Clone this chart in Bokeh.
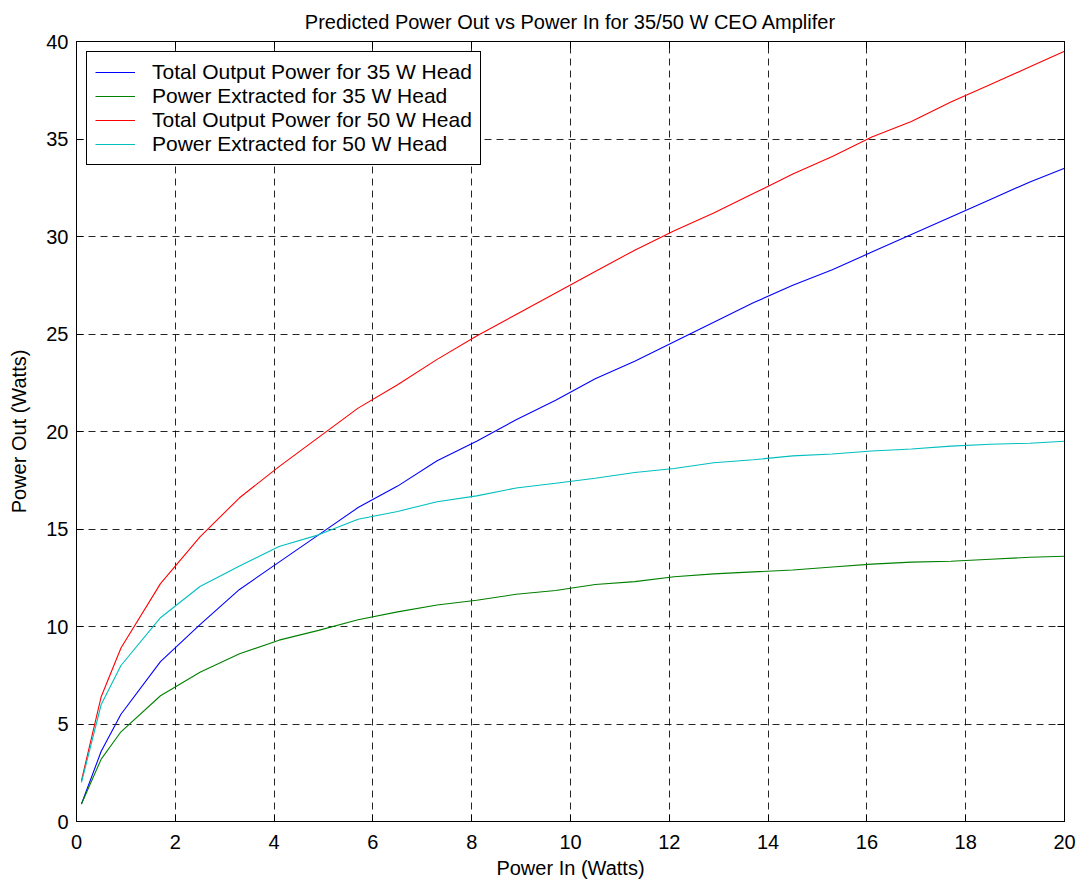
from bokeh.plotting import figure
from bokeh.models import Range1d, LinearAxis, FixedTicker, Legend, LegendItem
from bokeh.embed import file_html
from bokeh.resources import INLINE

# Input power sweep (Watts)
power_in = [0.1, 0.5, 0.9, 1.7, 2.5, 3.3, 4.1, 4.9, 5.7, 6.5, 7.3, 8.1, 8.9, 9.7,
            10.5, 11.3, 12.1, 12.9, 13.7, 14.5, 15.3, 16.1, 16.9, 17.7, 18.5, 19.3, 20.0]

# 35 W head
total_out_35 = [0.9, 3.6, 5.5, 8.2, 10.1, 11.9, 13.3, 14.7, 16.1, 17.2, 18.5, 19.5, 20.6, 21.6,
                22.7, 23.6, 24.6, 25.6, 26.6, 27.5, 28.3, 29.2, 30.1, 31.0, 31.9, 32.8, 33.5]
extracted_35 = [0.9, 3.2, 4.6, 6.45, 7.65, 8.6, 9.3, 9.8, 10.35, 10.75, 11.1, 11.35, 11.65, 11.85,
                12.15, 12.3, 12.55, 12.7, 12.8, 12.9, 13.05, 13.2, 13.3, 13.35, 13.45, 13.55, 13.6]

# 50 W head
total_out_50 = [2.1, 6.4, 8.9, 12.2, 14.6, 16.6, 18.2, 19.7, 21.2, 22.4, 23.7, 24.9, 26.0, 27.1,
                28.2, 29.3, 30.3, 31.2, 32.2, 33.2, 34.1, 35.1, 35.9, 36.9, 37.8, 38.7, 39.5]
extracted_50 = [2.0, 6.0, 8.0, 10.45, 12.05, 13.1, 14.1, 14.7, 15.5, 15.9, 16.4, 16.7, 17.1, 17.35,
                17.6, 17.9, 18.1, 18.4, 18.55, 18.75, 18.85, 19.0, 19.1, 19.25, 19.35, 19.4, 19.5]

series_labels = ["Total Output Power for 35 W Head", "Power Extracted for 35 W Head",
                 "Total Output Power for 50 W Head", "Power Extracted for 50 W Head"]
series_colors = ["#0000FF", "#008000", "#FF0000", "#00BFBF"]

x_ticks = list(range(0, 21, 2))
y_ticks = list(range(0, 41, 5))

FONT = "Liberation Sans"

p = figure(width=1080, height=882, output_backend="svg", toolbar_location=None,
           x_range=Range1d(0, 20), y_range=Range1d(0, 40),
           min_border_left=76, min_border_right=16, min_border_top=40, min_border_bottom=61)

p.title.text = "Predicted Power Out vs Power In for 35/50 W CEO Amplifer"
p.title.align = "center"
p.title.text_font = FONT
p.title.text_font_size = "20px"
p.title.text_font_style = "normal"
p.title.text_color = "black"
p.title.standoff = 17

p.outline_line_color = "black"
p.outline_line_width = 1
p.outline_line_alpha = 1
p.background_fill_color = "white"
p.border_fill_color = "white"

# Dashed grid
for g, ticks in ((p.xgrid, x_ticks), (p.ygrid, y_ticks)):
    g.ticker = FixedTicker(ticks=ticks)
    g.grid_line_color = "black"
    g.grid_line_dash = "7 5"
    g.grid_line_width = 1
    g.grid_line_alpha = 0.85


def style_axis(ax, ticks, show_labels=True):
    ax.ticker = FixedTicker(ticks=ticks)
    ax.axis_line_color = "black"
    ax.major_tick_line_color = "black"
    ax.major_tick_in = 7
    ax.major_tick_out = 0
    ax.minor_tick_line_color = None
    ax.major_label_text_font = FONT
    ax.major_label_text_font_size = "20px"
    ax.major_label_text_color = "black" if show_labels else None
    ax.axis_label_text_font = FONT
    ax.axis_label_text_font_size = "20px"
    ax.axis_label_text_font_style = "normal"
    ax.axis_label_text_color = "black"


style_axis(p.xaxis[0], x_ticks)
style_axis(p.yaxis[0], y_ticks)
p.xaxis[0].axis_label = "Power In (Watts)"
p.yaxis[0].axis_label = "Power Out (Watts)"
p.xaxis[0].major_label_standoff = 13
p.yaxis[0].major_label_standoff = 8
p.xaxis[0].axis_label_standoff = 5
p.yaxis[0].axis_label_standoff = 13

top_axis = LinearAxis()
right_axis = LinearAxis()
style_axis(top_axis, x_ticks, show_labels=False)
style_axis(right_axis, y_ticks, show_labels=False)
top_axis.major_label_text_font_size = "0px"
right_axis.major_label_text_font_size = "0px"
top_axis.major_label_standoff = 0
right_axis.major_label_standoff = 0
p.add_layout(top_axis, "above")
p.add_layout(right_axis, "right")

renderers = []
for ys, color in zip([total_out_35, extracted_35, total_out_50, extracted_50], series_colors):
    renderers.append(p.line(power_in, ys, line_color=color, line_width=1.1))

legend = Legend(items=[LegendItem(label=lab, renderers=[r]) for lab, r in zip(series_labels, renderers)],
                location="top_left")
legend.margin = 10
legend.padding = 8
legend.spacing = 0
legend.glyph_width = 40
legend.glyph_height = 24
legend.label_height = 24
legend.label_standoff = 17
legend.label_text_font = FONT
legend.label_text_font_size = "21px"
legend.label_text_color = "black"
legend.border_line_color = "black"
legend.border_line_width = 1
legend.border_line_alpha = 1
legend.background_fill_alpha = 1
p.add_layout(legend, "center")

open("out.html", "w").write(file_html(p, INLINE))
